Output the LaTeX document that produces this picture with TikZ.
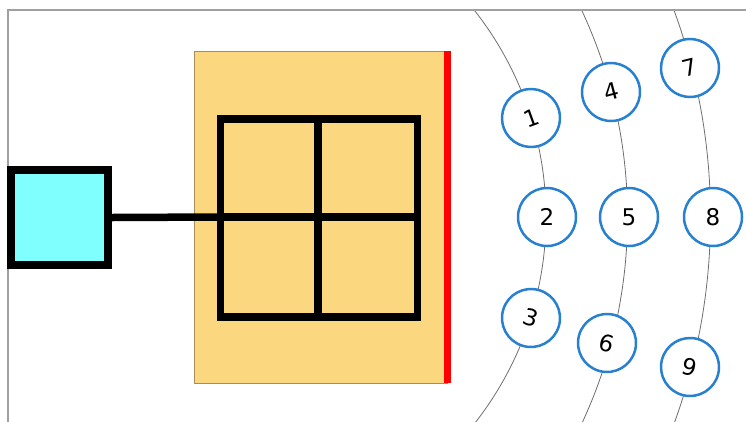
\documentclass[tikz,border=0pt]{standalone}
\usepackage{fontspec}
\setmainfont{DejaVu Sans}
\definecolor{frameg}{RGB}{160,160,160}
\definecolor{orangefill}{RGB}{251,216,128}
\definecolor{orangeedge}{RGB}{170,140,90}
\definecolor{cyanfill}{RGB}{128,255,255}
\definecolor{bubblue}{RGB}{40,128,208}
\definecolor{arcg}{RGB}{110,110,110}
\tikzset{
  thickblack/.style={line width=7.5pt, draw=black},
  bub/.style={circle, draw=bubblue, line width=2.5pt, fill=white, minimum size=58pt, inner sep=0pt,
              font=\fontsize{23}{26}\selectfont},
  arcline/.style={draw=arcg, line width=0.8pt},
}
\begin{document}
\begin{tikzpicture}[x=1pt,y=-1pt]
\useasboundingbox (0,0) rectangle (746,421);
% frame
\draw[frameg, line width=1.5pt] (8,425) -- (8,10) -- (750,10);
% arcs
\begin{scope}
  \clip (9,11) rectangle (746,421);
  \draw[arcline] (212,217) circle[radius=334];
  \draw[arcline] (139.5,217) circle[radius=488];
  \draw[arcline] (109.5,217) circle[radius=601];
\end{scope}
% orange panel and red edge
\node[draw=orangeedge, fill=orangefill, line width=0.6pt, minimum width=253pt, minimum height=332pt, inner sep=0pt, anchor=north west] (panel) at (194,51) {};
\draw[red, line width=7pt] (447,51) -- (447,383);
% grid
\coordinate (gtl) at (220.5,119);
\coordinate (gbr) at (417.5,317);
\draw[thickblack] (gtl) rectangle (gbr);
\coordinate (gtop) at (318,119);
\coordinate (gbot) at (318,317);
\coordinate (gleft) at (220.5,217);
\coordinate (gright) at (417.5,217);
\draw[thickblack] (gtop) -- (gbot);
\draw[thickblack] (gleft) -- (gright);
% cyan square
\node[draw=black, line width=7.5pt, fill=cyanfill, minimum width=97pt, minimum height=95pt, inner sep=0pt] (cy) at (59.5,217.5) {};
\draw[thickblack] (cy.east) -- (gleft);
% bubbles
\node[bub, rotate=20] (n1) at (531,118) {1};
\node[bub] (n2) at (547,217) {2};
\node[bub, rotate=-17] (n3) at (531,318) {3};
\node[bub, rotate=15] (n4) at (611,92) {4};
\node[bub] (n5) at (629,217) {5};
\node[bub, rotate=-15] (n6) at (607,343) {6};
\node[bub, rotate=14] (n7) at (690,68) {7};
\node[bub] (n8) at (713,217) {8};
\node[bub, rotate=-14] (n9) at (690,367) {9};
\end{tikzpicture}
\end{document}
